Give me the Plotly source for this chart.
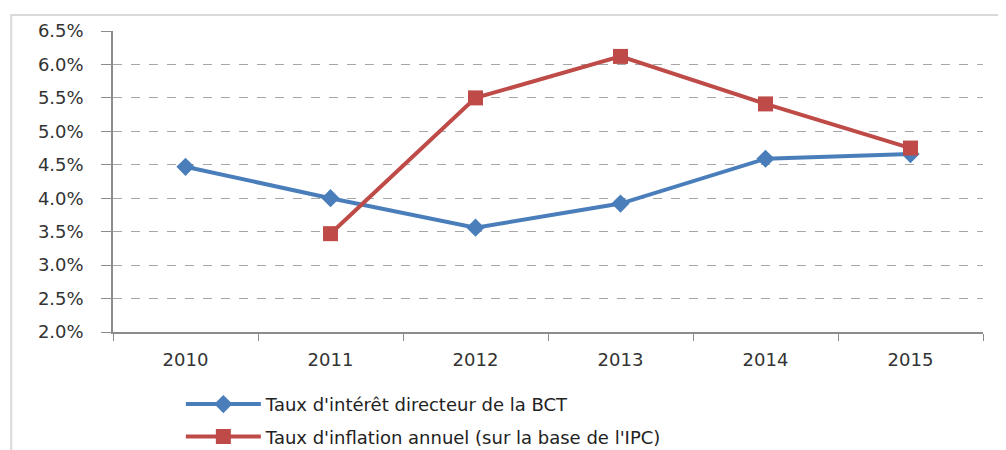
import plotly.graph_objects as go

years = ["2010", "2011", "2012", "2013", "2014", "2015"]
taux_directeur = [0.0447, 0.0400, 0.0356, 0.0392, 0.0459, 0.0466]
taux_inflation = [None, 0.0347, 0.0550, 0.0612, 0.0541, 0.0475]
y_ticks = [0.020, 0.025, 0.030, 0.035, 0.040, 0.045, 0.050, 0.055, 0.060, 0.065]

FONT = "DejaVu Sans"

fig = go.Figure()

fig.add_trace(go.Scatter(
    x=years,
    y=taux_directeur,
    mode="lines+markers",
    name="Taux d'intérêt directeur de la BCT",
    legendgroup="a",
    line=dict(color="#4a7ebb", width=4),
    marker=dict(symbol="diamond", size=14, color="#4a7ebb"),
))

fig.add_trace(go.Scatter(
    x=years,
    y=taux_inflation,
    mode="lines+markers",
    name="Taux d'inflation annuel (sur la base de l'IPC)",
    legendgroup="b",
    line=dict(color="#be4b48", width=4),
    marker=dict(symbol="square", size=15, color="#be4b48"),
))

# chart area border, as in the original
fig.add_shape(type="rect", xref="paper", yref="paper",
              x0=-0.117, x1=1.1, y0=-0.6, y1=1.053,
              line=dict(color="#d9d9d9", width=2), layer="below")

# page body adds 8px offset, so the figure is a bit smaller than the window
fig.update_layout(
    width=998,
    height=442,
    paper_bgcolor="white",
    plot_bgcolor="white",
    font=dict(family=FONT, size=18, color="#333333"),
    margin=dict(l=105, r=23, t=23, b=118, autoexpand=False),
    showlegend=True,
    legend=dict(
        orientation="v",
        x=0.078, xanchor="left",
        y=-0.179, yanchor="top",
        font=dict(family=FONT, size=18, color="#222222"),
        bgcolor="rgba(0,0,0,0)",
        itemwidth=75,
        tracegroupgap=6,
    ),
)

fig.update_xaxes(
    type="category",
    range=[-0.5, 5.5],
    showgrid=False,
    showline=True, linecolor="#8c8c8c", linewidth=1.5,
    ticks="outside", tickson="boundaries", ticklen=7, tickcolor="#8c8c8c",
    ticklabelstandoff=11,
    tickfont=dict(family=FONT, size=18, color="#333333"),
)

fig.update_yaxes(
    range=[0.020, 0.065],
    tickvals=y_ticks,
    tickformat=".1%",
    showgrid=True, gridcolor="#a6a6a6", gridwidth=1, griddash="dash",
    showline=True, linecolor="#8c8c8c", linewidth=1.5,
    ticks="outside", ticklen=10, tickcolor="#8c8c8c",
    ticklabelstandoff=14,
    tickfont=dict(family=FONT, size=18, color="#333333"),
    zeroline=False,
)

fig.write_html("out.html")
